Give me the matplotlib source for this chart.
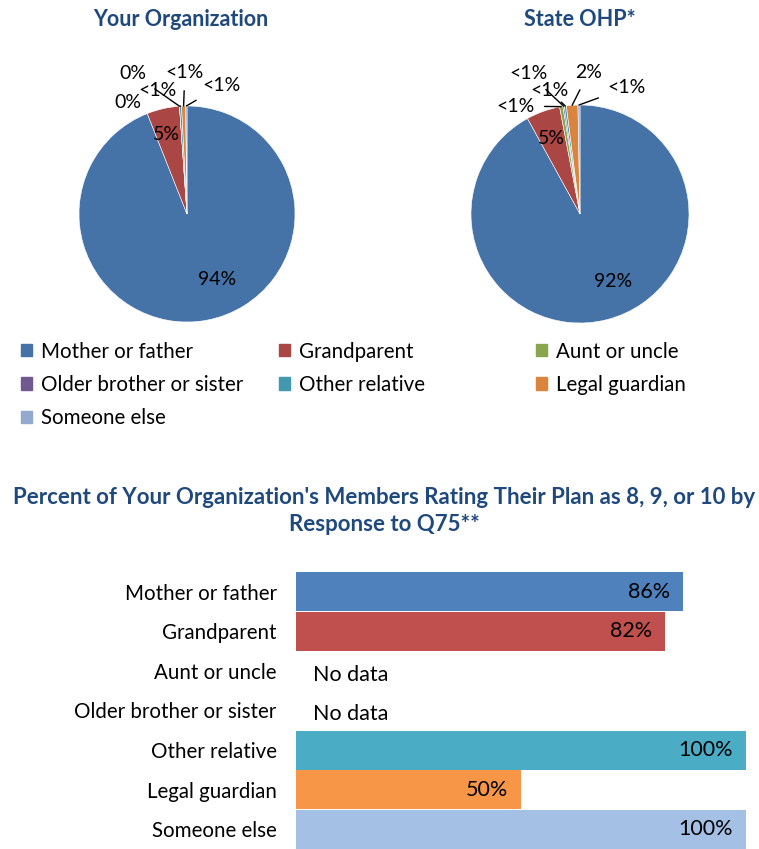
import numpy as np
import matplotlib
matplotlib.use("Agg")
import matplotlib.pyplot as plt

plt.rcParams['font.family'] = ['Lato', 'DejaVu Sans']

categories = ['Mother or father', 'Grandparent', 'Aunt or uncle', 'Older brother or sister',
              'Other relative', 'Legal guardian', 'Someone else']

# pie shares (percent)
org_share = [94.0, 4.9, 0.0, 0.0, 0.3, 0.6, 0.2]
org_labels = ['94%', '5%', '0%', '0%', '<1%', '<1%', '<1%']
state_share = [92.0, 5.0, 0.5, 0.2, 0.3, 1.7, 0.3]
state_labels = ['92%', '5%', '<1%', '<1%', '<1%', '2%', '<1%']

# percent rating plan 8-10, None = no data
rating = [86, 82, None, None, 100, 50, 100]

pie_colors = ['#4572A7', '#AA4643', '#89A54E', '#71588F', '#4198AF', '#DB843D', '#93A9CF']
bar_colors = ['#4F81BD', '#C0504D', '#9BBB59', '#8064A2', '#4BACC6', '#F79646', '#A5C0E5']
title_color = '#1F497D'

W, H = 759, 849
fig = plt.figure(figsize=(W / 100, H / 100), dpi=100)


def pie_axes(cx, cy, r):
    return fig.add_axes([(cx - r) / W, (H - cy - r) / H, 2 * r / W, 2 * r / H])


# label positions in pie radius units, plus whether a leader line is drawn
org_pos = [(0.28, -0.61, False), (-0.19, 0.74, False), (-0.55, 1.03, False),
           (-0.50, 1.30, True), (-0.27, 1.14, True), (-0.02, 1.31, True), (0.32, 1.19, True)]
state_pos = [(0.30, -0.62, False), (-0.26, 0.69, False), (-0.59, 0.99, True),
             (-0.47, 1.29, True), (-0.28, 1.13, True), (0.08, 1.30, True), (0.43, 1.16, True)]


def draw_pie(ax, shares, labels, pos):
    ax.pie(shares, colors=pie_colors, startangle=90, counterclock=False, radius=1,
           wedgeprops=dict(linewidth=0.4, edgecolor='white'))
    ax.set_xlim(-1, 1)
    ax.set_ylim(-1, 1)
    ax.set_aspect('auto')
    ax.axis('off')
    total = float(sum(shares))
    start = 90.0
    for share, lab, (lx, ly, lead) in zip(shares, labels, pos):
        mid = np.deg2rad(start - 360 * share / total / 2)
        start -= 360 * share / total
        if lead:
            ax.annotate(lab, xy=(np.cos(mid), np.sin(mid)), xytext=(lx, ly),
                        ha='center', va='center', fontsize=14, annotation_clip=False,
                        arrowprops=dict(arrowstyle='-', color='black', lw=1.0,
                                        shrinkA=5, shrinkB=0))
        else:
            ax.text(lx, ly, lab, ha='center', va='center', fontsize=14)


ax1 = pie_axes(187, 214, 108)
draw_pie(ax1, org_share, org_labels, org_pos)
ax2 = pie_axes(580, 214, 109)
draw_pie(ax2, state_share, state_labels, state_pos)
fig.text(181 / W, 1 - 20 / H, 'Your Organization', ha='center', va='center',
         fontsize=15.5, fontweight='bold', color=title_color)
fig.text(580 / W, 1 - 20 / H, 'State OHP*', ha='center', va='center',
         fontsize=15.5, fontweight='bold', color=title_color)

# legend: three columns filled row by row
col_x = [2, 260, 517]
for c in range(3):
    idx = list(range(c, len(categories), 3))
    handles = [plt.Rectangle((0, 0), 1, 1, color=pie_colors[i]) for i in idx]
    fig.legend(handles, [categories[i] for i in idx], loc='upper left',
               bbox_to_anchor=(col_x[c] / W, 1 - 323 / H), frameon=False,
               fontsize=14.8, handlelength=0.55, handleheight=0.55,
               handletextpad=0.45, labelspacing=0.65)

fig.text(384 / W, 1 - 511 / H,
         "Percent of Your Organization's Members Rating Their Plan as 8, 9, or 10 by\nResponse to Q75**",
         ha='center', va='center', fontsize=16, fontweight='bold', color=title_color,
         linespacing=1.3)

# horizontal bars
axb = fig.add_axes([296 / W, 0, 450 / W, 277 / H])
y = np.arange(len(categories))
for i, v in enumerate(rating):
    if v is None:
        axb.text(3.8, i + 0.1, 'No data', ha='left', va='center', fontsize=15.5)
        continue
    axb.barh(i, v, height=0.985, color=bar_colors[i])
    axb.text(v - 2.9, i, f'{v}%', ha='right', va='center', fontsize=15.5)
axb.set_xlim(0, 100)
axb.set_ylim(6.5, -0.5)
axb.set_yticks(y)
axb.set_yticklabels(categories, fontsize=14.8)
axb.tick_params(axis='y', length=0, pad=14)
axb.set_xticks([])
for s in axb.spines.values():
    s.set_visible(False)

fig.savefig('out.png', dpi=100)
